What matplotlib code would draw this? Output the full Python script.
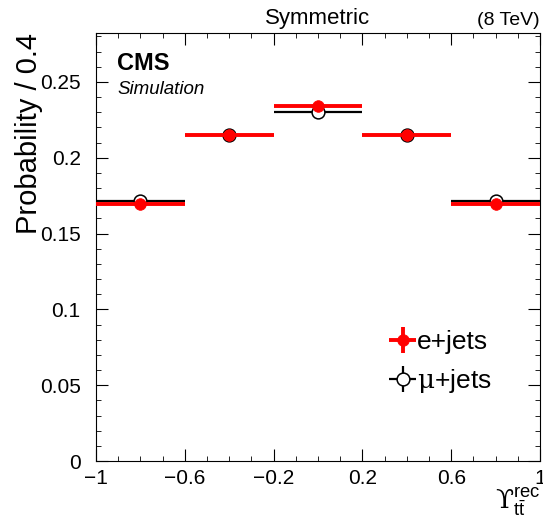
import matplotlib.pyplot as plt
from matplotlib.ticker import MultipleLocator
import numpy as np

plt.rcParams['font.family'] = ['Liberation Sans', 'DejaVu Sans']
plt.rcParams['mathtext.fontset'] = 'custom'
plt.rcParams['mathtext.rm'] = 'Liberation Sans'
plt.rcParams['mathtext.it'] = 'Liberation Sans:italic'
plt.rcParams['mathtext.sf'] = 'DejaVu Serif'

bin_edges = [-1.0, -0.6, -0.2, 0.2, 0.6, 1.0]
e_jets = [0.1695, 0.2150, 0.2342, 0.2150, 0.1695]
mu_jets = [0.1718, 0.2150, 0.2300, 0.2150, 0.1718]
stat_err = [0.0, 0.0, 0.0, 0.0, 0.0]

edges = np.array(bin_edges)
centers = (edges[:-1] + edges[1:]) / 2
half = (edges[1:] - edges[:-1]) / 2

fig = plt.figure(figsize=(5.43, 5.24), dpi=100)
ax = fig.add_axes([0.1768, 0.1202, 0.8177, 0.8168])

mu = ax.errorbar(centers, mu_jets, xerr=half, yerr=stat_err, fmt='o', color='black',
                 mfc='white', mec='black', ms=9.2, mew=1.1, elinewidth=1.6,
                 label=r'$\mathsf{\mu}$+jets', zorder=2)
e = ax.errorbar(centers, e_jets, xerr=half, yerr=stat_err, fmt='o', color='red',
                mfc='red', mec='red', ms=8.4, mew=0.5, elinewidth=2.8,
                label='e+jets', zorder=3)

ax.set_xlim(-1, 1)
ax.set_ylim(0, 0.2823)
ax.xaxis.set_minor_locator(MultipleLocator(0.1))
ax.yaxis.set_minor_locator(MultipleLocator(0.01))
ax.tick_params(which='both', direction='in', top=True, right=True, labelsize=15)
ax.tick_params(which='major', length=8.5)
ax.tick_params(which='minor', length=3.8)
ax.tick_params(axis='x', pad=6)
ax.tick_params(axis='y', pad=11)
ax.set_xticks([-1, -0.6, -0.2, 0.2, 0.6, 1])
ax.set_xticklabels(['\u22121', '\u22120.6', '\u22120.2', '0.2', '0.6', '1'])
ax.set_yticks([0, 0.05, 0.1, 0.15, 0.2, 0.25])
ax.set_yticklabels(['0', '0.05', '0.1', '0.15', '0.2', '0.25'])

ax.set_ylabel('Probability / 0.4', fontsize=21, loc='top', labelpad=-2)
ax.set_xlabel('$\\mathsf{\u03d2}^{\\rm rec}_{\\rm t\\bar{t}}$', fontsize=19, loc='right', labelpad=-2)

ax.text(0.5, 1.01, 'Symmetric', transform=ax.transAxes, ha='center', va='bottom', fontsize=16)
ax.text(1.0, 1.01, '(8 TeV)', transform=ax.transAxes, ha='right', va='bottom', fontsize=14)
ax.text(0.048, 0.955, 'CMS', transform=ax.transAxes, ha='left', va='top',
        fontsize=17, fontweight='bold')
ax.text(0.048, 0.888, 'Simulation', transform=ax.transAxes, ha='left', va='top',
        fontsize=13.5, style='italic')

ax.legend(handles=[e, mu], loc='lower right', bbox_to_anchor=(0.945, 0.098),
          frameon=False, fontsize=19, handlelength=0.7, handletextpad=0.2,
          labelspacing=0.5)

fig.savefig('out.png', dpi=100)
